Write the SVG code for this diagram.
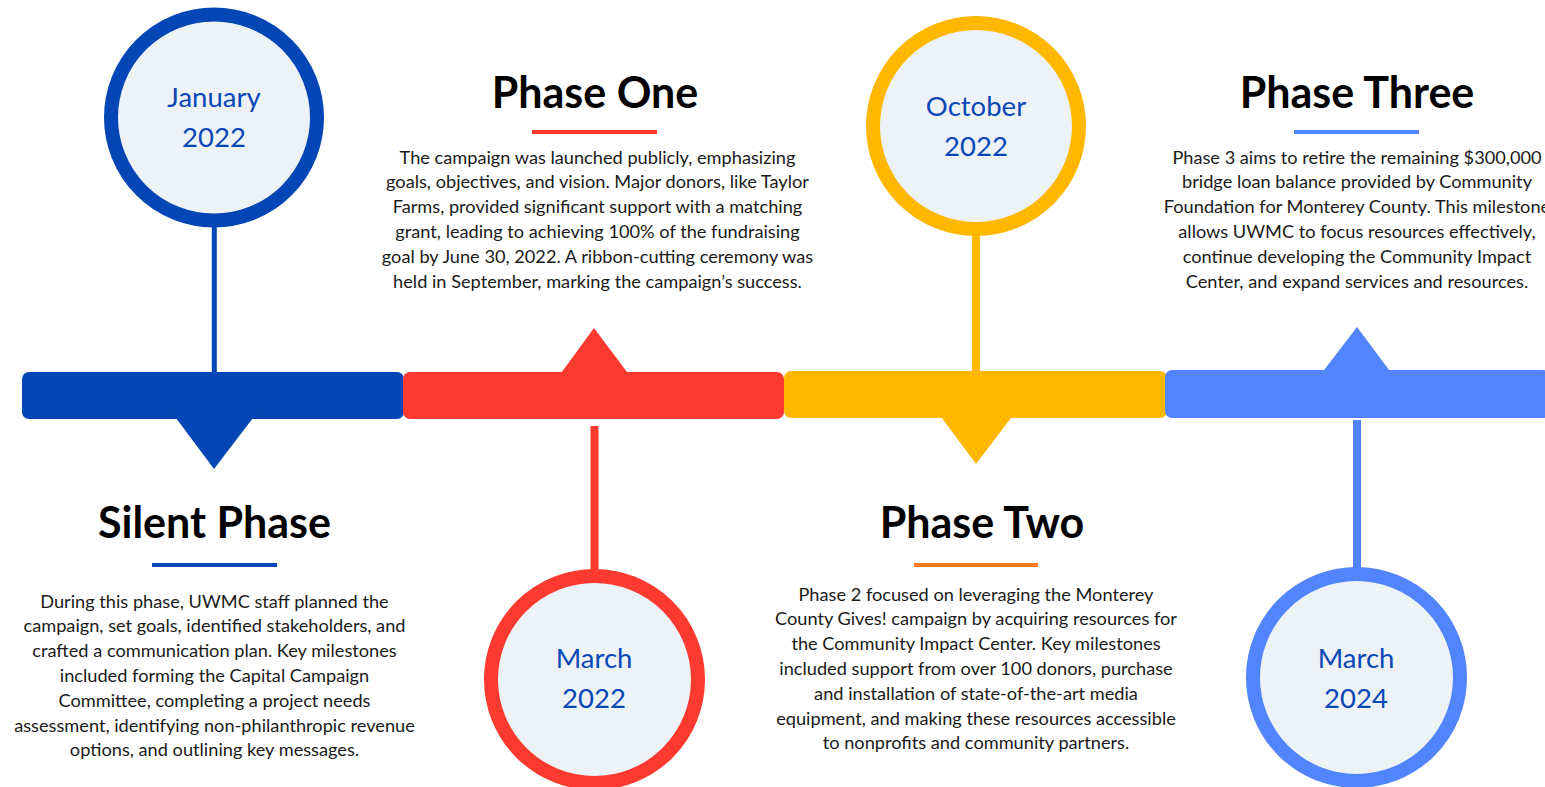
<svg xmlns="http://www.w3.org/2000/svg" width="1545" height="787" viewBox="0 0 1545 787">
<style>
.title{font-family:Lato,"Open Sans",sans-serif;font-weight:700;font-size:43px;fill:#000;text-anchor:middle}
.body{font-family:Lato,"Open Sans",sans-serif;font-size:18.2px;fill:#1a1a1a;text-anchor:middle}
.date{font-family:Lato,"Open Sans",sans-serif;font-size:27.5px;fill:#0a47b7;text-anchor:middle}
.ring{fill:#edf2f7;stroke-width:14}
</style>
<rect width="1545" height="787" fill="#fff"/>
<g id="connectors">
<rect x="211.8" y="225" width="5" height="150" fill="#0446b5"/>
<rect x="590.5" y="426" width="8" height="150" fill="#fd3a2f"/>
<rect x="972" y="230" width="8" height="145" fill="#ffb700"/>
<rect x="1353" y="420" width="8" height="155" fill="#5284fd"/>
</g>
<g id="bar-silent">
<rect x="22" y="372" width="382" height="47" rx="7" fill="#0446b5"/>
<polygon points="170,410 259,410 214,469" fill="#0446b5"/>
</g>
<g id="bar-one">
<rect x="403" y="372" width="381" height="47" rx="7" fill="#fd3a2f"/>
<polygon points="556,380 633,380 594,328" fill="#fd3a2f"/>
</g>
<g id="bar-two">
<rect x="784" y="371" width="383" height="47" rx="7" fill="#ffb700"/>
<polygon points="936,410 1017,410 976,464" fill="#ffb700"/>
</g>
<g id="bar-three">
<rect x="1165" y="370" width="385" height="48" rx="7" fill="#5284fd"/>
<polygon points="1318,378 1395,378 1357,327" fill="#5284fd"/>
</g>
<g id="date-jan-2022">
<circle cx="214" cy="117.5" r="103" class="ring" stroke="#0446b5"/>
<text class="date" x="214" y="107">January</text>
<text class="date" x="214" y="147">2022</text>
</g>
<g id="date-mar-2022">
<circle cx="594.5" cy="679.5" r="103.5" class="ring" stroke="#fd3a2f"/>
<text class="date" x="594" y="668">March</text>
<text class="date" x="594" y="708">2022</text>
</g>
<g id="date-oct-2022">
<circle cx="976" cy="126" r="103" class="ring" stroke="#ffb700"/>
<text class="date" x="976" y="116">October</text>
<text class="date" x="976" y="156">2022</text>
</g>
<g id="date-mar-2024">
<circle cx="1356.5" cy="677.5" r="103.5" class="ring" stroke="#5284fd"/>
<text class="date" x="1356" y="668">March</text>
<text class="date" x="1356" y="708">2024</text>
</g>
<g id="silent-phase">
<text class="title" x="214.5" y="538">Silent Phase</text>
<rect x="152" y="563" width="125" height="4" fill="#0446b5"/>
<text class="body" x="214.5" y="607.5">During this phase, UWMC staff planned the</text>
<text class="body" x="214.5" y="632.3">campaign, set goals, identified stakeholders, and</text>
<text class="body" x="214.5" y="657.1">crafted a communication plan. Key milestones</text>
<text class="body" x="214.5" y="681.9">included forming the Capital Campaign</text>
<text class="body" x="214.5" y="706.7">Committee, completing a project needs</text>
<text class="body" x="214.5" y="731.5">assessment, identifying non-philanthropic revenue</text>
<text class="body" x="214.5" y="756.3">options, and outlining key messages.</text>
</g>
<g id="phase-one">
<text class="title" x="595" y="108">Phase One</text>
<rect x="532" y="130" width="125" height="4" fill="#fd3a2f"/>
<text class="body" x="597.5" y="163.5">The campaign was launched publicly, emphasizing</text>
<text class="body" x="597.5" y="188.3">goals, objectives, and vision. Major donors, like Taylor</text>
<text class="body" x="597.5" y="213.1">Farms, provided significant support with a matching</text>
<text class="body" x="597.5" y="237.9">grant, leading to achieving 100% of the fundraising</text>
<text class="body" x="597.5" y="262.7">goal by June 30, 2022. A ribbon-cutting ceremony was</text>
<text class="body" x="597.5" y="287.5">held in September, marking the campaign’s success.</text>
</g>
<g id="phase-two">
<text class="title" x="982" y="538">Phase Two</text>
<rect x="914" y="563" width="124" height="4" fill="#f47b20"/>
<text class="body" x="976" y="600.5">Phase 2 focused on leveraging the Monterey</text>
<text class="body" x="976" y="625.3">County Gives! campaign by acquiring resources for</text>
<text class="body" x="976" y="650.1">the Community Impact Center. Key milestones</text>
<text class="body" x="976" y="674.9">included support from over 100 donors, purchase</text>
<text class="body" x="976" y="699.7">and installation of state-of-the-art media</text>
<text class="body" x="976" y="724.5">equipment, and making these resources accessible</text>
<text class="body" x="976" y="749.3">to nonprofits and community partners.</text>
</g>
<g id="phase-three">
<text class="title" x="1357" y="108">Phase Three</text>
<rect x="1294" y="130" width="125" height="4" fill="#5284fd"/>
<text class="body" x="1357" y="163.5">Phase 3 aims to retire the remaining $300,000</text>
<text class="body" x="1357" y="188.3">bridge loan balance provided by Community</text>
<text class="body" x="1357" y="213.1">Foundation for Monterey County. This milestone</text>
<text class="body" x="1357" y="237.9">allows UWMC to focus resources effectively,</text>
<text class="body" x="1357" y="262.7">continue developing the Community Impact</text>
<text class="body" x="1357" y="287.5">Center, and expand services and resources.</text>
</g>
</svg>
